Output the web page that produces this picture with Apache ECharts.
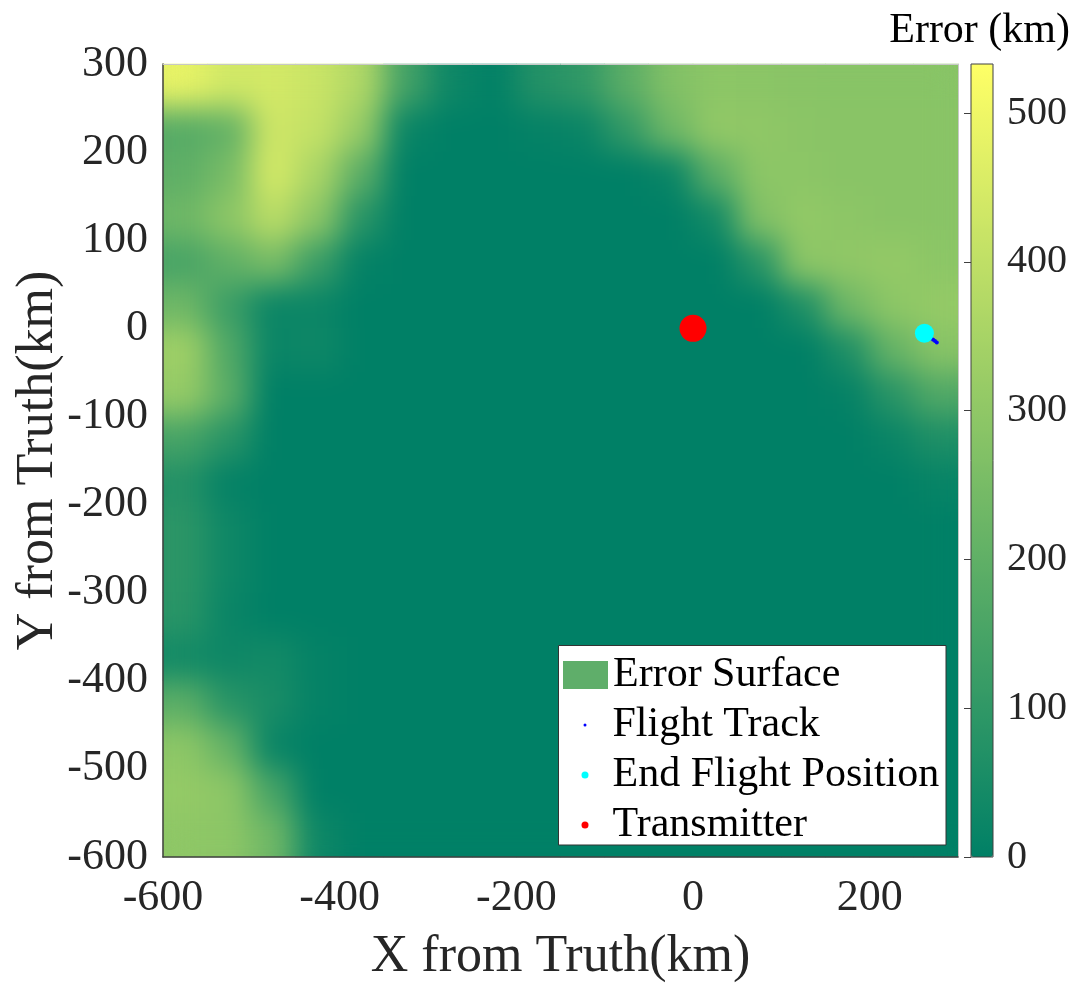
<!DOCTYPE html>
<html><head><meta charset="utf-8">
<script src="https://cdn.jsdelivr.net/npm/echarts@6/dist/echarts.min.js"></script>
<style>
html,body{margin:0;padding:0;background:#fff;}
#base,#over{position:absolute;left:0;top:0;width:1078px;height:983px;}
#clip{position:absolute;left:163px;top:64px;width:795px;height:793px;overflow:hidden;}
#soft{position:absolute;left:0;top:0;width:795px;height:793px;filter:url(#smooth);}
</style></head><body>
<svg width="0" height="0" style="position:absolute;left:0;top:0">
  <filter id="smooth" x="-5%" y="-5%" width="110%" height="110%" color-interpolation-filters="sRGB">
    <feGaussianBlur stdDeviation="15" edgeMode="duplicate"/>
    <feComponentTransfer><feFuncA type="table" tableValues="1 1"/></feComponentTransfer>
  </filter>
</svg>
<div id="base"></div><div id="clip"><div id="soft"></div></div><div id="over"></div>
<script>
// cell centres (km)
const xCells = [-575,-525,-475,-425,-375,-325,-275,-225,-175,-125,-75,-25,25,75,125,175,225,275];
const yCells = [275,225,175,125,75,25,-25,-75,-125,-175,-225,-275,-325,-375,-425,-475,-525,-575];
// error (km), rows from top (y=275) to bottom (y=-575), columns x=-575..275
const errorRows = [
  [480,435,440,420,365,140, 30,  5, 73,100,190,270,293,290,287,285,285,285],
  [180,210,430,408,313, 20,  0,  0, 10, 20,105,230,303,300,290,287,287,287],
  [198,250,440,355,190,  0,  0,  0,  0,  0,  0, 20,188,293,292,287,287,287],
  [230,293,387,293, 84,  0,  0,  0,  0,  0,  0,  0, 40,270,305,295,287,287],
  [150,200,250,125, 10,  0,  0,  0,  0,  0,  0,  0,  0, 84,293,300,310,293],
  [230,125, 25, 25,  0,  0,  0,  0,  0,  0,  0,  0,  0,  0, 63,230,293,310],
  [330,167, 20, 30,  0,  0,  0,  0,  0,  0,  0,  0,  0,  0,  0, 63,210,282],
  [310,188,  0,  0,  0,  0,  0,  0,  0,  0,  0,  0,  0,  0,  0, 10, 84,167],
  [146, 84,  0,  0,  0,  0,  0,  0,  0,  0,  0,  0,  0,  0,  0,  0, 20, 63],
  [ 73, 10,  0,  0,  0,  0,  0,  0,  0,  0,  0,  0,  0,  0,  0,  0,  0, 15],
  [ 90, 30,  0,  0,  0,  0,  0,  0,  0,  0,  0,  0,  0,  0,  0,  0,  0,  0],
  [ 90, 30,  0,  0,  0,  0,  0,  0,  0,  0,  0,  0,  0,  0,  0,  0,  0,  0],
  [ 84, 20,  0,  0,  0,  0,  0,  0,  0,  0,  0,  0,  0,  0,  0,  0,  0,  0],
  [ 40, 30, 40, 10,  0,  0,  0,  0,  0,  0,  0,  0,  0,  0,  0,  0,  0,  0],
  [188, 84, 52, 10,  0,  0,  0,  0,  0,  0,  0,  0,  0,  0,  0,  0,  0,  0],
  [293,210, 20,  0,  0,  0,  0,  0,  0,  0,  0,  0,  0,  0,  0,  0,  0,  0],
  [310,293,146,  0,  0,  0,  0,  0,  0,  0,  0,  0,  0,  0,  0,  0,  0,  0],
  [297,293,230, 30,  0,  0,  0,  0,  0,  0,  0,  0,  0,  0,  0,  0,  0,  0]
];
const errorMax = 533;
const xTicks = [-600,-400,-200,0,200];
const yTicks = [-600,-500,-400,-300,-200,-100,0,100,200,300];
const cbarTicks = [0,100,200,300,400,500];
const flightTrack = [[264,-7],[266,-8.5],[268,-10],[270,-11.5],[272,-13],[274,-14.5],[276,-16]];
const endFlight = [[262,-5.5]];
const transmitter = [[0,0]];

const F = '"Liberation Serif","Times New Roman",serif';
const heatData = [];
errorRows.forEach((row, r) => row.forEach((v, c) => heatData.push([c, r, v])));
const summer = ['#008066', '#ffff66'];

function heatOption(gridPos, showVM) {
  return {
    animation: false,
    grid: Object.assign({containLabel: false, outerBoundsMode: 'none'}, gridPos),
    xAxis: {type: 'category', data: xCells, show: false, boundaryGap: true},
    yAxis: {type: 'category', data: yCells, show: false, inverse: true, boundaryGap: true},
    visualMap: {
      type: 'continuous', min: 0, max: errorMax, inRange: {color: summer},
      show: showVM, calculable: false, left: 971, top: 64, itemWidth: 22, itemHeight: 793,
      padding: 0, text: null, seriesIndex: 0, hoverLink: false
    },
    series: [{type: 'heatmap', data: heatData, itemStyle: {borderWidth: 0}, emphasis: {disabled: true}, progressive: 0}]
  };
}

const base = echarts.init(document.getElementById('base'), null, {renderer: 'canvas'});
base.setOption(heatOption({left: 163, top: 64, width: 795, height: 793}, true));
const soft = echarts.init(document.getElementById('soft'), null, {renderer: 'canvas'});
soft.setOption(heatOption({left: 0, top: 0, right: 0, bottom: 0}, false));

const over = echarts.init(document.getElementById('over'), null, {renderer: 'canvas'});
const lbl = {fontFamily: F, color: '#262626'};
const legText = {fontFamily: F, fontSize: 42, color: '#000'};
over.setOption({
  animation: false,
  backgroundColor: 'transparent',
  title: {text: 'Error (km)', right: 8, top: 10, padding: 0,
          textStyle: {fontFamily: F, fontSize: 42, fontWeight: 'normal', color: '#000'}},
  grid: [
    {left: 163, top: 64, width: 795, height: 793, show: false, containLabel: false, outerBoundsMode: 'none'},
    {left: 971, top: 64, width: 22, height: 793, show: true, borderColor: '#404040', borderWidth: 1,
     backgroundColor: 'transparent', containLabel: false, outerBoundsMode: 'none'}
  ],
  xAxis: [
    {type: 'value', gridIndex: 0, min: -600, max: 300, interval: 200, position: 'bottom',
     axisLine: {show: true, onZero: false, lineStyle: {color: '#404040', width: 1.5}},
     axisTick: {show: false}, splitLine: {show: false},
     axisLabel: Object.assign({fontSize: 44, margin: 19, showMaxLabel: false,
       formatter: v => xTicks.includes(v) ? String(v) : ''}, lbl),
     name: 'X from Truth(km)', nameLocation: 'middle', nameGap: 74, nameMoveOverlap: false,
     nameTextStyle: Object.assign({fontSize: 52}, lbl)},
    {type: 'value', gridIndex: 0, min: -600, max: 300, position: 'top',
     axisLine: {show: true, onZero: false, lineStyle: {color: '#c8c8c8', width: 1}},
     axisTick: {show: false}, axisLabel: {show: false}, splitLine: {show: false}},
    {type: 'value', gridIndex: 1, min: 0, max: 1, show: false}
  ],
  yAxis: [
    {type: 'value', gridIndex: 0, min: -600, max: 300, interval: 100, position: 'left',
     axisLine: {show: true, onZero: false, lineStyle: {color: '#404040', width: 1.5}},
     axisTick: {show: false}, splitLine: {show: false},
     axisLabel: Object.assign({fontSize: 44, margin: 15,
       formatter: v => yTicks.includes(v) ? String(v) : ''}, lbl),
     name: 'Y from Truth(km)', nameLocation: 'middle', nameGap: 99, nameRotate: 90, nameMoveOverlap: false,
     nameTextStyle: Object.assign({fontSize: 52}, lbl)},
    {type: 'value', gridIndex: 0, min: -600, max: 300, position: 'right',
     axisLine: {show: true, onZero: false, lineStyle: {color: '#c8c8c8', width: 1}},
     axisTick: {show: false}, axisLabel: {show: false}, splitLine: {show: false}},
    {type: 'value', gridIndex: 1, min: 0, max: errorMax, interval: 100, position: 'right',
     axisLine: {show: false}, splitLine: {show: false},
     axisTick: {show: true, inside: true, length: 7, lineStyle: {color: '#404040', width: 1}},
     axisLabel: Object.assign({fontSize: 40, margin: 14, showMaxLabel: false,
       formatter: v => cbarTicks.includes(v) ? String(v) : ''}, lbl)}
  ],
  graphic: [{type: 'rect', z: 1, shape: {x: 558.5, y: 645.5, width: 387.5, height: 199.5},
             style: {fill: '#ffffff', stroke: '#333333', lineWidth: 1}}],
  legend: [
    {data: [{name: 'Error Surface', icon: 'rect', itemStyle: {color: '#5fae6a', opacity: 1}}],
     left: 563, top: 654, orient: 'vertical', itemWidth: 45, itemHeight: 28, padding: 0, textStyle: legText, z: 5},
    {data: [{name: 'Flight Track', icon: 'circle', itemStyle: {color: '#0000ff', opacity: 1}}],
     left: 583.5, top: 704, orient: 'vertical', itemWidth: 45, itemHeight: 3, padding: 0, textStyle: legText, z: 5},
    {data: [{name: 'End Flight Position', icon: 'circle', itemStyle: {color: '#00ffff', opacity: 1}},
            {name: 'Transmitter', icon: 'circle', itemStyle: {color: '#ff0000', opacity: 1}}],
     left: 581.5, top: 754, orient: 'vertical', itemGap: 8, itemWidth: 45, itemHeight: 7, padding: 0, textStyle: legText, z: 5}
  ],
  series: [
    {name: 'Error Surface', type: 'scatter', xAxisIndex: 0, yAxisIndex: 0, data: [], itemStyle: {color: '#5fae6a', opacity: 1}},
    {name: 'Flight Track', type: 'scatter', xAxisIndex: 0, yAxisIndex: 0, data: flightTrack,
     symbolSize: 4, itemStyle: {color: '#0000ff', opacity: 1}, emphasis: {disabled: true}},
    {name: 'End Flight Position', type: 'scatter', xAxisIndex: 0, yAxisIndex: 0, data: endFlight,
     symbolSize: 19, itemStyle: {color: '#00ffff', opacity: 1}, emphasis: {disabled: true}},
    {name: 'Transmitter', type: 'scatter', xAxisIndex: 0, yAxisIndex: 0, data: transmitter,
     symbolSize: 27, itemStyle: {color: '#ff0000', opacity: 1}, emphasis: {disabled: true}}
  ]
});
</script>
</body></html>
